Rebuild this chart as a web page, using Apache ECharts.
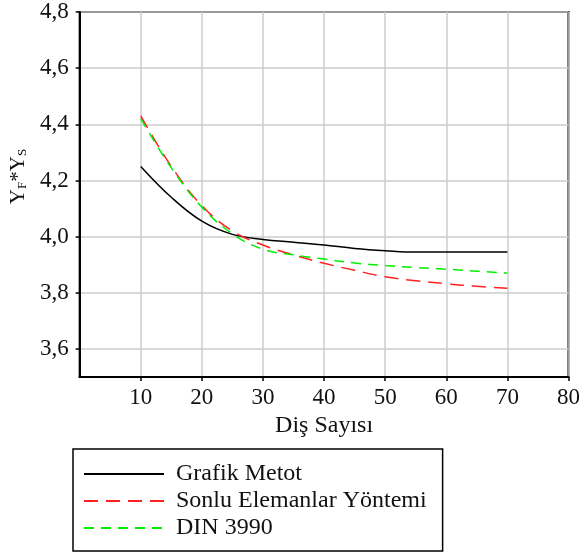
<!DOCTYPE html>
<html>
<head>
<meta charset="utf-8">
<script src="https://cdn.jsdelivr.net/npm/echarts@6/dist/echarts.min.js"></script>
<style>html,body{margin:0;padding:0;background:#fff;}#c{width:583px;height:556px;}</style>
</head>
<body>
<div id="c"></div>
<script>
var xValues = [10, 15, 20, 25, 30, 35, 40, 45, 50, 55, 60, 65, 70];
var grafikMetot = [4.25, 4.14, 4.055, 4.008, 3.99, 3.98, 3.97, 3.958, 3.95, 3.945, 3.945, 3.945, 3.945];
var sonluElemanlar = [4.43, 4.25, 4.11, 4.02, 3.97, 3.935, 3.905, 3.88, 3.857, 3.843, 3.832, 3.823, 3.816];
var din3990 = [4.42, 4.245, 4.105, 4.01, 3.955, 3.935, 3.92, 3.906, 3.897, 3.89, 3.884, 3.877, 3.87];
var yTicks = [3.6, 3.8, 4.0, 4.2, 4.4, 4.6, 4.8];
var xTicks = [10, 20, 30, 40, 50, 60, 70, 80];
var seriesNames = ['Grafik Metot', 'Sonlu Elemanlar Yöntemi', 'DIN 3990'];

function pairs(ys) { return xValues.map(function (x, i) { return [x, ys[i]]; }); }

var font = 'Liberation Serif';
var chart = echarts.init(document.getElementById('c'), null, { renderer: 'canvas' });
chart.setOption({
  animation: false,
  backgroundColor: '#fff',
  grid: { left: 77, top: 12, width: 495, height: 365, show: true, borderColor: '#000', borderWidth: 2, containLabel: false },
  xAxis: {
    type: 'value', min: 0, max: 80, interval: 10,
    axisLine: { show: true, lineStyle: { color: '#000', width: 2 } },
    axisTick: { show: true, length: 4, lineStyle: { color: '#000', width: 1.5 }, customValues: xTicks },
    axisLabel: { customValues: xTicks, color: '#111', fontFamily: font, fontSize: 23, margin: 9 },
    splitLine: { show: true, lineStyle: { color: '#cccccc', width: 1.5 } },
    name: 'Diş Sayısı', nameLocation: 'middle', nameGap: 36,
    nameTextStyle: { color: '#111', fontFamily: font, fontSize: 24 }
  },
  yAxis: {
    type: 'value', min: 3.5, max: 4.8,
    axisLine: { show: true, lineStyle: { color: '#000', width: 2 } },
    axisTick: { show: true, length: 4, lineStyle: { color: '#000', width: 1.5 }, customValues: yTicks },
    axisLabel: {
      customValues: yTicks, color: '#111', fontFamily: font, fontSize: 23, margin: 11,
      formatter: function (v) { return v.toFixed(1).replace('.', ','); }
    },
    splitLine: { show: true, lineStyle: { color: '#cccccc', width: 1.5 } },
    name: '{main|Y}{sub|F}{main|*Y}{sub|S}', nameLocation: 'middle', nameGap: 50,
    nameTextStyle: {
      color: '#111', fontFamily: font, fontSize: 21, padding: [0, 0, 0, 36],
      rich: {
        main: { fontFamily: font, fontSize: 21, color: '#111', verticalAlign: 'bottom', lineHeight: 24 },
        sub: { fontFamily: font, fontSize: 13, color: '#111', verticalAlign: 'bottom', lineHeight: 16 }
      }
    }
  },
  legend: {
    orient: 'vertical', left: 73, top: 449, height: 100,
    data: seriesNames,
    itemWidth: 80, itemHeight: 20, itemGap: 3,
    padding: [13, 16, 11, 10],
    borderColor: '#000', borderWidth: 1.5,
    itemStyle: { color: 'transparent', borderColor: 'transparent', borderWidth: 0 },
    textStyle: { color: '#111', fontFamily: font, fontSize: 24, lineHeight: 24, padding: [0, 0, 0, 7] }
  },
  series: [
    { name: seriesNames[0], type: 'line', data: pairs(grafikMetot), smooth: 0.4, showSymbol: false, symbol: 'none',
      lineStyle: { color: '#000', width: 1.5 }, itemStyle: { color: '#000' } },
    { name: seriesNames[1], type: 'line', data: pairs(sonluElemanlar), smooth: 0.4, showSymbol: false, symbol: 'none',
      lineStyle: { color: '#ff2020', width: 1.5, type: [14, 8] }, itemStyle: { color: '#ff2020' } },
    { name: seriesNames[2], type: 'line', data: pairs(din3990), smooth: 0.4, showSymbol: false, symbol: 'none',
      lineStyle: { color: '#00ee00', width: 1.5, type: [10, 7] }, itemStyle: { color: '#00ee00' } }
  ]
});
</script>
</body>
</html>
